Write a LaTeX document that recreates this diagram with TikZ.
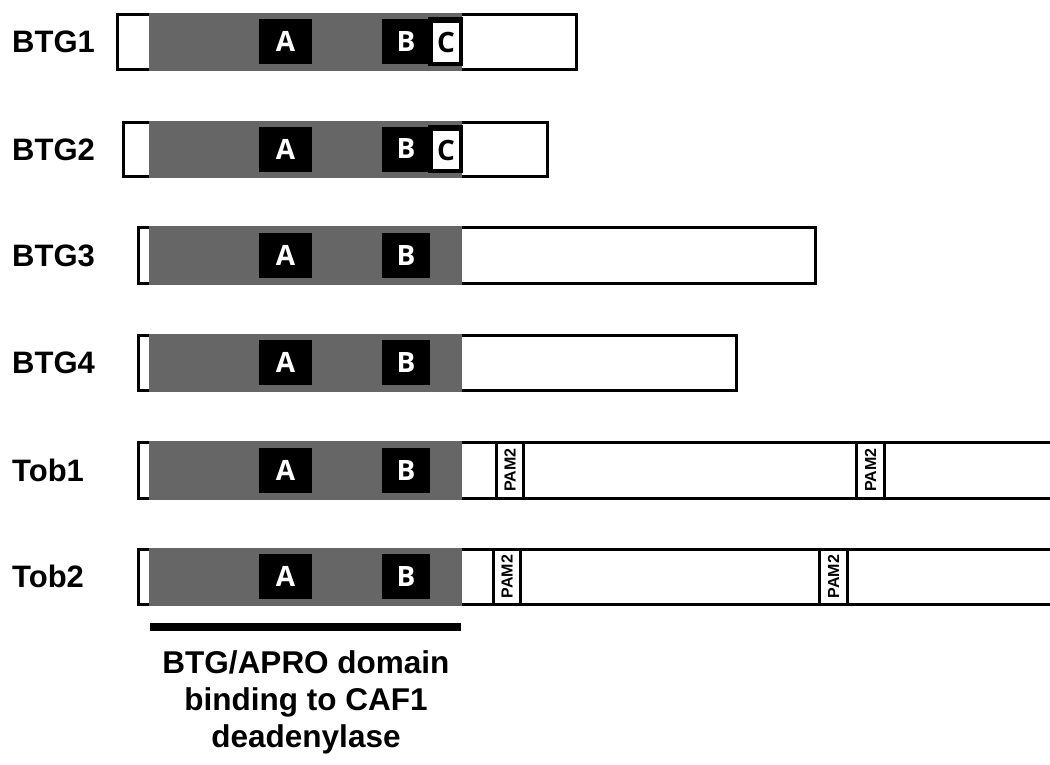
\documentclass[tikz,border=0pt]{standalone}
\usepackage{fontspec}
\newfontfamily\labfont{Liberation Sans}
\newfontfamily\boxfont{Open Sans}
\definecolor{domgray}{HTML}{666666}
\tikzset{
  protbox/.style={draw=black, fill=white, line width=3pt},
  domainfill/.style={fill=domgray},
  motif/.style={fill=black},
  motiftxt/.style={text=white, inner sep=0pt, font=\boxfont\bfseries\fontsize{28}{28}\selectfont},
  ctxt/.style={text=black, inner sep=0pt, font=\boxfont\bfseries\fontsize{28}{28}\selectfont},
  rowlab/.style={anchor=base west, inner sep=0pt, font=\labfont\bfseries\fontsize{31}{31}\selectfont},
  pambox/.style={draw=black, fill=white, line width=3pt},
  pamtxt/.style={rotate=90, inner sep=0pt, font=\labfont\bfseries\fontsize{16}{16}\selectfont},
  captxt/.style={anchor=base, inner sep=0pt, font=\labfont\bfseries\fontsize{31.5}{31.5}\selectfont}
}
% #1 name, #2 top, #3 bottom, #4 left, #5 right, #6 label
\newcommand{\protrow}[6]{%
  \draw[protbox] (#4,#2) rectangle (#5,#3);
  \fill[domainfill] (149,{#2-1.5}) rectangle (462,{#3+1.5});
  \fill[motif] (259,{(#2+#3)/2-22.5}) rectangle (312,{(#2+#3)/2+22.5});
  \fill[motif] (382,{(#2+#3)/2-22.5}) rectangle (430,{(#2+#3)/2+22.5});
  \node[motiftxt] (#1A) at (285.5,{(#2+#3)/2}) {A};
  \node[motiftxt] (#1B) at (406,{(#2+#3)/2}) {B};
  \node[rowlab] (#1lab) at (12,{(#2+#3)/2+11}) {#6};
}
% #1 name, #2 top, #3 bottom
\newcommand{\cbox}[3]{%
  \fill[motif] (428,{#2+3}) rectangle (463,{#3-3});
  \fill[white] (433,{#2+9}) rectangle (459,{#3-7});
  \node[ctxt] (#1C) at (446,{(#2+#3)/2+1}) {C};
}
% #1 name, #2 top, #3 bottom, #4 left, #5 right
\newcommand{\pam}[5]{%
  \draw[pambox] (#4,#2) rectangle (#5,#3);
  \node[pamtxt] (#1) at ({(#4+#5)/2+0.5},{(#2+#3)/2}) {PAM2};
}
\begin{document}
\begin{tikzpicture}[x=1pt,y=-1pt]
\useasboundingbox (0,0) rectangle (1050,764);
\clip (0,0) rectangle (1050,764);
\fill[white] (0,0) rectangle (1050,764);

\protrow{btgone}{14}{69}{117}{576}{BTG1}
\cbox{btgone}{14}{69}
\protrow{btgtwo}{122}{176}{123}{547}{BTG2}
\cbox{btgtwo}{122}{176}
\protrow{btgthree}{227}{283}{138}{815}{BTG3}
\protrow{btgfour}{335}{390}{138}{736}{BTG4}
\protrow{tobone}{442}{498}{138}{1056}{Tob1}
\pam{toboneP}{442}{498}{496}{523}
\pam{toboneQ}{442}{498}{856}{884}
\protrow{tobtwo}{549}{604}{138}{1056}{Tob2}
\pam{tobtwoP}{549}{604}{493}{520}
\pam{tobtwoQ}{549}{604}{819}{847}

\fill[black] (150,623) rectangle (461,631);
\node[captxt] (capone) at (306,673) {BTG/APRO domain};
\node[captxt] (captwo) at (306,710) {binding to CAF1};
\node[captxt] (capthree) at (306,747) {deadenylase};
\end{tikzpicture}
\end{document}
